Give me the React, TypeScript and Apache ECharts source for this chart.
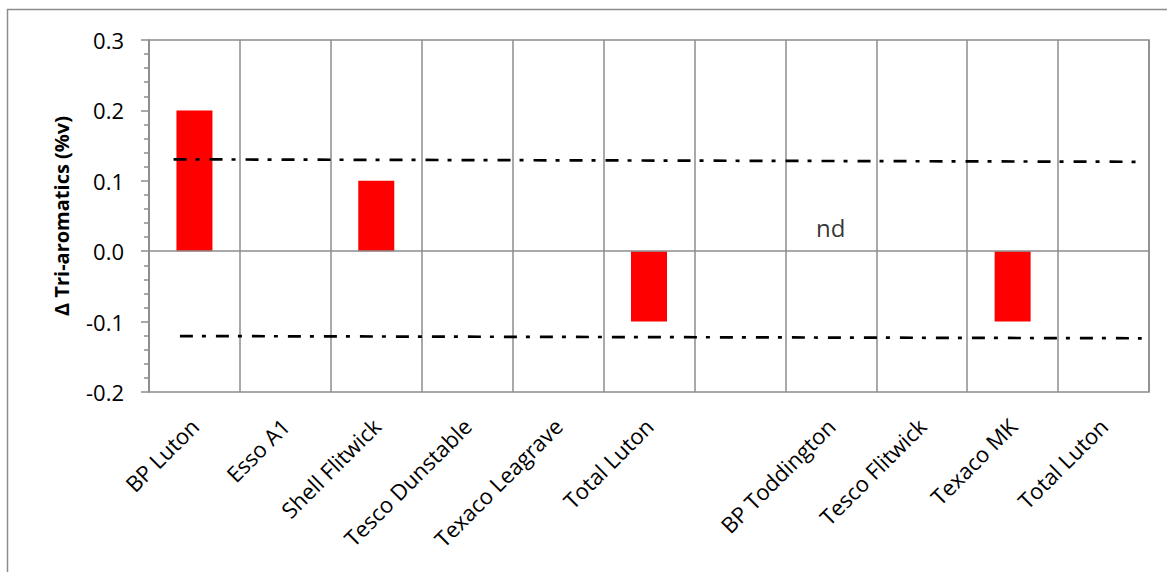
import React, { useEffect, useRef } from "react";
import * as echarts from "echarts";

const categories = [
  "BP Luton",
  "Esso A1",
  "Shell Flitwick",
  "Tesco Dunstable",
  "Texaco Leagrave",
  "Total Luton",
  "",
  "BP Toddington",
  "Tesco Flitwick",
  "Texaco MK",
  "Total Luton",
];
const deltaValues: (number | null)[] = [0.2, 0, 0.1, 0, 0, -0.1, null, null, 0, -0.1, 0];
const ndCategory = "BP Toddington";
const ndValue = 0.033;
const upperLimit: [number, number][] = [
  [0.27, 0.1305],
  [10.87, 0.127],
];
const lowerLimit: [number, number][] = [
  [0.34, -0.1205],
  [10.92, -0.1237],
];
const yTicks = { min: -0.2, max: 0.3, interval: 0.1 };

const FONT = "'Open Sans', 'Noto Sans', sans-serif";
const GRAY = "#8c8c8c";

export default function App() {
  const ref = useRef<HTMLDivElement>(null);
  useEffect(() => {
    document.body.style.margin = "0";
    if (!ref.current) return;
    const chart = echarts.init(ref.current, undefined, { renderer: "svg" });
    chart.setOption({
      animation: false,
      backgroundColor: "#ffffff",
      graphic: [
        {
          type: "rect",
          shape: { x: 7.5, y: 9.5, width: 1300, height: 700 },
          style: { fill: "none", stroke: GRAY, lineWidth: 1.5 },
          silent: true,
        },
      ],
      grid: {
        left: 149,
        top: 40,
        right: 18,
        bottom: 180,
        show: true,
        borderColor: GRAY,
        borderWidth: 1.5,
        containLabel: false,
      },
      xAxis: [
        {
          type: "category",
          data: categories,
          boundaryGap: true,
          axisLine: { show: false, onZero: false },
          axisTick: { show: false },
          splitLine: { show: true, interval: 0, lineStyle: { color: GRAY, width: 1.5 } },
          axisLabel: {
            interval: 0,
            rotate: 45,
            margin: 30,
            color: "#000",
            fontFamily: FONT,
            fontSize: 22,
          },
        },
        {
          type: "value",
          min: 0,
          max: 11,
          show: false,
        },
      ],
      yAxis: {
        type: "value",
        min: yTicks.min,
        max: yTicks.max,
        interval: yTicks.interval,
        name: "Δ Tri-aromatics (%v)",
        nameLocation: "middle",
        nameGap: 78,
        nameTextStyle: { color: "#000", fontFamily: FONT, fontSize: 20, fontWeight: "bold" },
        axisLine: { show: true, lineStyle: { color: GRAY, width: 1.5 } },
        axisTick: { show: true, length: 8, lineStyle: { color: GRAY, width: 1.5 } },
        minorTick: { show: true, splitNumber: 5, length: 5, lineStyle: { color: GRAY, width: 1.5 } },
        splitLine: { show: false },
        axisLabel: {
          color: "#000",
          fontFamily: FONT,
          fontSize: 22,
          margin: 25,
          formatter: (v: number) => v.toFixed(1),
        },
      },
      series: [
        {
          type: "bar",
          data: deltaValues,
          barWidth: 36,
          itemStyle: { color: "#ff0000" },
          markLine: {
            silent: true,
            symbol: "none",
            label: { show: false },
            lineStyle: { color: GRAY, width: 1.5, type: "solid" },
            data: [{ yAxis: 0 }],
          },
        },
        {
          type: "scatter",
          data: [[ndCategory, ndValue]],
          symbolSize: 0,
          label: {
            show: true,
            position: "inside",
            formatter: "nd",
            color: "#000",
            fontFamily: FONT,
            fontSize: 24,
          },
        },
        {
          type: "line",
          xAxisIndex: 1,
          data: upperLimit,
          symbol: "none",
          lineStyle: { color: "#000", width: 2.7, type: [13, 9, 4, 10] },
        },
        {
          type: "line",
          xAxisIndex: 1,
          data: lowerLimit,
          symbol: "none",
          lineStyle: { color: "#000", width: 2.7, type: [13, 9, 4, 10] },
        },
      ],
    });
    return () => chart.dispose();
  }, []);
  return <div ref={ref} style={{ width: 1167, height: 572 }} />;
}
